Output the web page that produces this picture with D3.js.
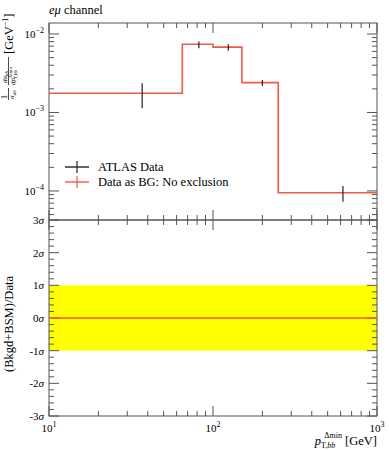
<!DOCTYPE html>
<html><head><meta charset="utf-8">
<script src="https://cdn.jsdelivr.net/npm/d3@7"></script>
<style>body{margin:0;background:#fff}svg{display:block}text{font-family:"Liberation Serif","DejaVu Serif",serif;fill:#000}</style>
</head><body><svg id="c" width="389" height="450"></svg>
<script>
// ---- data ----
const binEdges = [10, 65, 100, 150, 250, 1000];
const mcValues = [1.76e-3, 7.4e-3, 6.8e-3, 2.4e-3, 9.5e-5];
const dataX = [37, 82, 124, 200, 620];
const dataY = [1.76e-3, 7.4e-3, 6.8e-3, 2.4e-3, 9.5e-5];
const dataErrLo = [1.13e-3, 6.6e-3, 6.13e-3, 2.18e-3, 7.3e-5];
const dataErrHi = [2.36e-3, 8.0e-3, 7.4e-3, 2.6e-3, 1.16e-4];
const ratioValues = [0, 0, 0, 0, 0];
const bandLo = -1, bandHi = 1;
const xTickVals = [10, 100, 1000];
const xTickExp = ["1", "2", "3"];
const yTickVals = [1e-2, 1e-3, 1e-4];
const yTickExp = ["−2", "−3", "−4"];
const rTickVals = [3, 2, 1, 0, -1, -2, -3];
const rTickLabels = ["3", "2", "1", "0", "-1", "-2", "-3"];
const legendLabels = ["ATLAS Data", "Data as BG: No exclusion"];

const RED = "#ef5a45", AX = "#555";
const svg = d3.select("#c");
const L = 49, R = 377, T = 23, M = 220, B = 416;
const x = d3.scaleLog().domain([10, 1000]).range([L, R]);
const y = d3.scaleLog().domain([Math.pow(10, -4.37), Math.pow(10, -1.86)]).range([M, T]);
const yr = d3.scaleLinear().domain([-3, 3]).range([B, M]);

// band
svg.append("rect").attr("x", L).attr("width", R - L)
  .attr("y", yr(bandHi)).attr("height", yr(bandLo) - yr(bandHi)).attr("fill", "#ffff00");

function xTicks(yy, dir) {
  const g = svg.append("g");
  const minors = [];
  for (let d = 10; d < 1000; d *= 10) for (let k = 2; k <= 9; k++) minors.push(k * d);
  minors.forEach(v => g.append("line").attr("x1", x(v)).attr("x2", x(v)).attr("y1", yy).attr("y2", yy + dir * 5).attr("stroke", AX));
  xTickVals.forEach(v => g.append("line").attr("x1", x(v)).attr("x2", x(v)).attr("y1", yy).attr("y2", yy + dir * 10).attr("stroke", AX));
}
xTicks(T, 1); xTicks(M, -1); xTicks(M, 1); xTicks(B, -1);

const yMin = [];
for (let d = 1e-5; d < 1e-1; d *= 10) for (let k = 2; k <= 9; k++) { const v = k * d; if (v > y.domain()[0] && v < y.domain()[1]) yMin.push(v); }
[L, R].forEach((xx, i) => {
  const dir = i === 0 ? 1 : -1;
  yMin.forEach(v => svg.append("line").attr("x1", xx).attr("x2", xx + dir * 5).attr("y1", y(v)).attr("y2", y(v)).attr("stroke", AX));
  yTickVals.forEach(v => svg.append("line").attr("x1", xx).attr("x2", xx + dir * 10).attr("y1", y(v)).attr("y2", y(v)).attr("stroke", AX));
  for (let v = -3; v <= 3.001; v += 0.2) {
    const major = Math.abs(v - Math.round(v)) < 1e-6;
    svg.append("line").attr("x1", xx).attr("x2", xx + dir * (major ? 10 : 5)).attr("y1", yr(v)).attr("y2", yr(v)).attr("stroke", AX);
  }
});

svg.append("rect").attr("x", L).attr("y", T).attr("width", R - L).attr("height", M - T).attr("fill", "none").attr("stroke", AX);
svg.append("rect").attr("x", L).attr("y", M).attr("width", R - L).attr("height", B - M).attr("fill", "none").attr("stroke", AX);

yTickVals.forEach((v, i) => {
  const t = svg.append("text").attr("x", 44).attr("y", y(v) + 4).attr("text-anchor", "end").attr("font-size", 11);
  t.append("tspan").text("10");
  t.append("tspan").attr("dy", -5).attr("font-size", 8).text(yTickExp[i]);
});
rTickVals.forEach((v, i) => {
  const t = svg.append("text").attr("x", 44).attr("y", yr(v) + 4).attr("text-anchor", "end").attr("font-size", 11);
  t.append("tspan").text(rTickLabels[i]);
  t.append("tspan").attr("font-style", "italic").text("σ");
});
xTickVals.forEach((v, i) => {
  const t = svg.append("text").attr("x", x(v)).attr("y", 432).attr("text-anchor", "middle").attr("font-size", 11);
  t.append("tspan").text("10");
  t.append("tspan").attr("dy", -5).attr("font-size", 8).text(xTickExp[i]);
});

const stepPts = [];
mcValues.forEach((v, i) => { stepPts.push([binEdges[i], v]); stepPts.push([binEdges[i + 1], v]); });
svg.append("path").datum(stepPts).attr("fill", "none").attr("stroke", RED).attr("stroke-width", 1.6)
  .attr("d", d3.line().x(d => x(d[0])).y(d => y(d[1])));

dataX.forEach((xv, i) => {
  svg.append("line").attr("x1", x(xv)).attr("x2", x(xv)).attr("y1", y(dataErrLo[i])).attr("y2", y(dataErrHi[i])).attr("stroke", "#222").attr("stroke-width", 1.2);
});

const rPts = [];
ratioValues.forEach((v, i) => { rPts.push([binEdges[i], v]); rPts.push([binEdges[i + 1], v]); });
svg.append("path").datum(rPts).attr("fill", "none").attr("stroke", RED).attr("stroke-width", 1.4)
  .attr("d", d3.line().x(d => x(d[0])).y(d => yr(d[1])));

const lg = [["#222", 167], [RED, 182]];
lg.forEach(([c, yy], i) => {
  svg.append("line").attr("x1", 65).attr("x2", 89).attr("y1", yy).attr("y2", yy).attr("stroke", c).attr("stroke-width", 1.4);
  svg.append("line").attr("x1", 77).attr("x2", 77).attr("y1", yy - 6).attr("y2", yy + 6).attr("stroke", c).attr("stroke-width", 1.2);
  svg.append("text").attr("x", 98).attr("y", yy + 4).attr("font-size", 12.5).text(legendLabels[i]);
});

const tt = svg.append("text").attr("x", 49).attr("y", 14).attr("font-size", 12.5);
tt.append("tspan").attr("font-style", "italic").text("eμ");
tt.append("tspan").text(" channel");

// x label
const xl = svg.append("text").attr("x", 377).attr("y", 445).attr("text-anchor", "end").attr("font-size", 12.5);
xl.append("tspan").attr("font-style", "italic").text("p");
xl.append("tspan").attr("font-size", 8).attr("dy", 3).text("T,");
xl.append("tspan").attr("font-size", 8).attr("font-style", "italic").text("bb");
xl.append("tspan").attr("font-size", 8).attr("dy", -10).attr("dx", -11).text("Δmin");
xl.append("tspan").attr("dy", 7).text(" [GeV]");

// lower y label
svg.append("text").attr("transform", `translate(13,324) rotate(-90)`).attr("text-anchor", "middle").attr("font-size", 12.5).text("(Bkgd+BSM)/Data");

// upper y label: local x = 100 - screenY, local y = screenX
const g = svg.append("g").attr("transform", "translate(0,100) rotate(-90)");
g.append("text").attr("x", 3).attr("y", 7).attr("text-anchor", "middle").attr("font-size", 9).text("1");
g.append("line").attr("x1", 0).attr("x2", 12).attr("y1", 8.5).attr("y2", 8.5).attr("stroke", "#000").attr("stroke-width", 0.7);
const s1 = g.append("text").attr("x", 1).attr("y", 14).attr("font-size", 7);
s1.append("tspan").attr("font-style", "italic").text("σ");
s1.append("tspan").attr("font-size", 5).attr("dy", 1.5).attr("font-style", "italic").text("ttb");
const n = g.append("text").attr("x", 17).attr("y", 6.5).attr("font-size", 7);
n.append("tspan").attr("font-style", "italic").text("dσ");
n.append("tspan").attr("font-size", 5).attr("dy", 1.5).attr("font-style", "italic").text("ttb");
g.append("line").attr("x1", 15).attr("x2", 43).attr("y1", 8.5).attr("y2", 8.5).attr("stroke", "#000").attr("stroke-width", 0.7);
const dd = g.append("text").attr("x", 15).attr("y", 15).attr("font-size", 7);
dd.append("tspan").attr("font-style", "italic").text("dp");
dd.append("tspan").attr("font-size", 5).attr("dy", -3).text("Δmin");
dd.append("tspan").attr("font-size", 5).attr("dy", 4.5).attr("dx", -12).text("T,bb");
const gv = g.append("text").attr("x", 46).attr("y", 13).attr("font-size", 12.5);
gv.append("tspan").text("[GeV");
gv.append("tspan").attr("font-size", 8).attr("dy", -5).text("−1");
gv.append("tspan").attr("dy", 5).text("]");
</script></body></html>
